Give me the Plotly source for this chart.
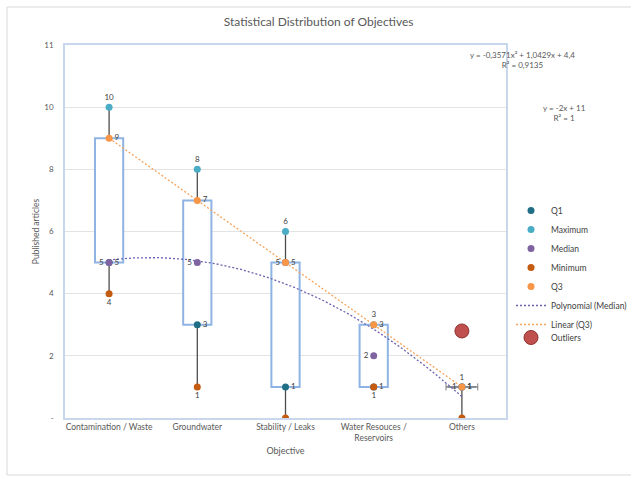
import numpy as np
import plotly.graph_objects as go

# ---------------- data ----------------
categories = ["Contamination / Waste", "Groundwater", "Stability / Leaks",
              "Water Resouces /<br>Reservoirs", "Others"]
q1 = [5, 3, 1, 1, 1]
maximum = [10, 8, 6, 3, 1]
median = [5, 5, 5, 2, 1]
minimum = [4, 1, 0, 1, 0]
q3 = [9, 7, 5, 3, 1]
outlier_cat = [5]
outlier_val = [2.8]
y_tickvals = [0, 2, 4, 6, 8, 10, 12]
y_ticktext = ["-", "2", "4", "6", "8", "10", "11"]

xpos = list(range(1, len(categories) + 1))

# plot-area pixel geometry (for paper-coordinate conversion of decorations)
L, R, T, B = 65, 506, 45, 418
W, H = 631, 477
def px(xp):
    return (xp - L) / (R - L)
def py(yp):
    return (B - yp) / (B - T)

TXT = "#595959"
FONT = "Lato"

fig = go.Figure()

# boxes (Q1 -> Q3)
fig.add_trace(go.Bar(
    x=xpos, y=[b - a for a, b in zip(q1, q3)], base=q1, width=0.32,
    marker=dict(color="white", line=dict(color="#8FB4E3", width=2)),
    showlegend=False, hoverinfo="skip"))

# collapsed boxes (Q1 == Q3)
cx, cy = [], []
for xi, a, b in zip(xpos, q1, q3):
    if a == b:
        cx += [xi - 0.18, xi + 0.18, None]
        cy += [a, a, None]
fig.add_trace(go.Scatter(x=cx, y=cy, mode="lines+markers",
                         line=dict(color="#7F7F7F", width=1.5),
                         marker=dict(symbol="line-ns", size=5, line=dict(color="#7F7F7F", width=1)),
                         showlegend=False, hoverinfo="skip"))

# whiskers
wx, wy = [], []
for xi, lo, a, b, hi in zip(xpos, minimum, q1, q3, maximum):
    if hi > b:
        wx += [xi, xi, None]; wy += [b, hi, None]
    if lo < a:
        wx += [xi, xi, None]; wy += [lo, a, None]
fig.add_trace(go.Scatter(x=wx, y=wy, mode="lines",
                         line=dict(color="#4D4D4D", width=1.3),
                         showlegend=False, hoverinfo="skip"))

# trendlines
xs = np.linspace(xpos[0], xpos[-1], 120)
pcoef = np.polyfit(xpos, median, 2)
lcoef = np.polyfit(xpos, q3, 1)
def r2(coef, y):
    y = np.array(y, float)
    f = np.polyval(coef, xpos)
    return 1 - ((y - f) ** 2).sum() / ((y - y.mean()) ** 2).sum()

fig.add_trace(go.Scatter(x=xs, y=np.polyval(pcoef, xs), mode="lines",
                         name="Polynomial (Median)", legendrank=6,
                         line=dict(color="#6B63B0", width=1.3, dash="2px,2px")))
fig.add_trace(go.Scatter(x=xs, y=np.polyval(lcoef, xs), mode="lines",
                         name="Linear (Q3)", legendrank=7,
                         line=dict(color="#F7A35C", width=1.3, dash="2px,2px")))

# point series
lab_font = dict(family=FONT, size=8, color="#404040")
def fmt(v):
    return str(int(v)) if float(v).is_integer() else str(v)

series = [
    ("Q1", q1, "#1F6E85", "middle right", [fmt(v) for v in q1]),
    ("Maximum", maximum, "#4BACC6", "top center", [fmt(v) for v in maximum]),
    ("Median", median, "#8064A2", "middle left", [fmt(v) for v in median]),
    ("Minimum", minimum, "#C55A11", "bottom center", [fmt(v) if v > 0 else "" for v in minimum]),
    ("Q3", q3, "#F79646", "middle right", [fmt(v) for v in q3]),
]
for rank, (name, vals, col, pos, txt) in enumerate(series, start=1):
    fig.add_trace(go.Scatter(x=xpos, y=vals, mode="markers+text", name=name,
                             legendrank=rank, text=txt, textposition=pos,
                             textfont=lab_font,
                             marker=dict(color=col, size=7)))

# outliers
fig.add_trace(go.Scatter(x=outlier_cat, y=outlier_val, mode="markers", name="Outliers",
                         legend="legend2",
                         marker=dict(color="#C0504D", size=14,
                                     line=dict(color="#8C3230", width=1))))

# equations
def num(v):
    s = f"{v:.4f}".rstrip("0").rstrip(".")
    return s.replace(".", ",")
a2, a1, a0 = pcoef
poly_txt = (f"y = {num(a2)}x² {'+' if a1 >= 0 else '-'} {num(abs(a1))}x "
            f"{'+' if a0 >= 0 else '-'} {num(abs(a0))}<br>R² = {num(r2(pcoef, median))}")
b1, b0 = lcoef
lin_txt = (f"y = {num(round(b1, 4))}x {'+' if b0 >= 0 else '-'} {num(abs(round(b0, 4)))}"
           f"<br>R² = {num(round(r2(lcoef, q3), 4))}")

annotations = [
    dict(text=poly_txt, x=px(577), y=py(48), xref="paper", yref="paper",
         showarrow=False, font=dict(family=FONT, size=8, color=TXT), align="center"),
    dict(text=lin_txt, x=px(588), y=py(101), xref="paper", yref="paper",
         showarrow=False, font=dict(family=FONT, size=8, color=TXT), align="center"),
]

frame = dict(color="#D9D9D9", width=1)
shapes = [
    dict(type="line", xref="paper", yref="paper", x0=px(7), x1=px(7),
         y0=py(475), y1=py(7), line=frame, layer="below"),
    dict(type="line", xref="paper", yref="paper", x0=px(7), x1=px(640),
         y0=py(7), y1=py(7), line=frame, layer="below"),
    dict(type="line", xref="paper", yref="paper", x0=px(7), x1=px(640),
         y0=py(475), y1=py(475), line=frame, layer="below"),
]

fig.update_layout(
    width=W, height=H,
    margin=dict(l=L, r=W - R, t=T, b=H - B, autoexpand=False),
    paper_bgcolor="white", plot_bgcolor="white",
    font=dict(family=FONT, color=TXT),
    barmode="overlay",
    title=dict(text="Statistical Distribution of Objectives", x=0.505, xref="container",
               y=1 - 22 / H, yref="container", xanchor="center", yanchor="middle",
               font=dict(family=FONT, size=12, color=TXT)),
    xaxis=dict(range=[0.5, 5.5], tickvals=xpos, ticktext=categories,
               showgrid=False, zeroline=False, showline=True, mirror=True,
               linecolor="#C9D7EC", linewidth=1.5, ticks="",
               tickfont=dict(family=FONT, size=8.5, color=TXT),
               title=dict(text="Objective", font=dict(family=FONT, size=9, color=TXT),
                          standoff=6)),
    yaxis=dict(range=[0, 12], tickvals=y_tickvals, ticktext=y_ticktext,
               showgrid=True, gridcolor="#E3E3E3", zeroline=False,
               showline=True, mirror=True, linecolor="#C9D7EC", linewidth=1.5,
               ticks="", ticklabelstandoff=8,
               tickfont=dict(family=FONT, size=8, color=TXT),
               title=dict(text="Published articles",
                          font=dict(family=FONT, size=8.5, color=TXT), standoff=3)),
    legend=dict(x=px(511), y=py(196), xanchor="left", yanchor="top",
                font=dict(family=FONT, size=8.5, color="#404040"),
                bgcolor="rgba(0,0,0,0)", itemwidth=30, tracegroupgap=0),
    legend2=dict(x=px(511), y=py(323), xanchor="left", yanchor="top",
                 font=dict(family=FONT, size=8.5, color="#404040"),
                 bgcolor="rgba(0,0,0,0)", itemwidth=30),
    annotations=annotations,
    shapes=shapes,
    showlegend=True,
)

fig.write_html("out.html", config={"displayModeBar": False},
               post_script="document.body.style.margin='0';document.body.style.overflow='hidden';")
